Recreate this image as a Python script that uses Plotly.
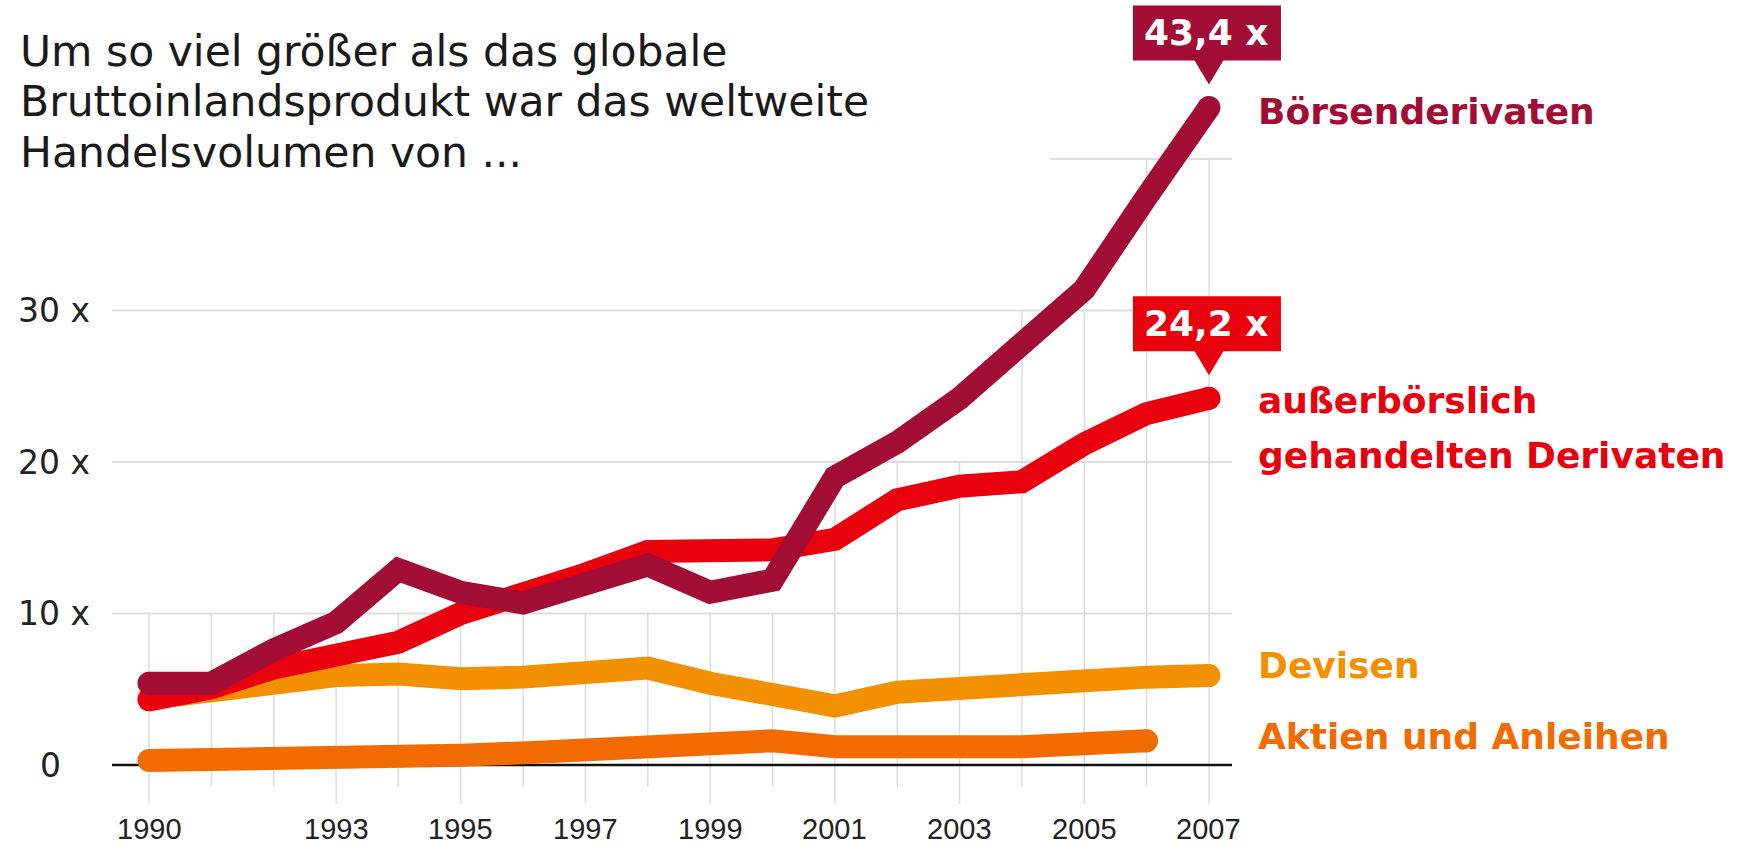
import plotly.graph_objects as go

# ---------------- data ----------------
years = list(range(1990, 2008))
boersen = [5.4, 5.4, 7.6, 9.4, 12.9, 11.4, 10.7, 12.0, 13.2, 11.4, 12.2, 19.0, 21.3, 24.2, 28.0, 31.4, 37.5, 43.4]
ausserb = [4.3, 5.1, 6.4, 7.3, 8.1, 10.0, 11.2, 12.6, 14.1, 14.1, 14.2, 14.9, 17.5, 18.4, 18.7, 21.2, 23.2, 24.2]
devisen = [4.4, 4.9, 5.5, 5.9, 6.0, 5.7, 5.8, 6.1, 6.4, 5.4, 4.6, 3.9, 4.8, 5.1, 5.1, 5.4, 5.8, 5.9]
aktien_years = list(range(1990, 2007))
aktien = [0.3, 0.3, 0.35, 0.5, 0.6, 0.65, 0.8, 1.0, 1.1, 1.2, 1.6, 1.2, 1.1, 1.1, 1.2, 1.4, 1.6]

year_labels = [1990, 1993, 1995, 1997, 1999, 2001, 2003, 2005, 2007]
y_grid = [10, 20, 30, 40]
y_labels = {30: "30 x", 20: "20 x", 10: "10 x", 0: "0"}

title_lines = ["Um so viel größer als das globale",
               "Bruttoinlandsprodukt war das weltweite",
               "Handelsvolumen von ..."]

# ---------------- styling ----------------
C_BOERSEN = "#A10D35"
C_AUSSER = "#E8000D"
C_DEVISEN = "#F39000"
C_AKTIEN = "#F26B00"
LW = 23
GRID = "#dddddd"

W, H = 1762, 851
X0PX, PPX = 149.0, 62.35   # pixel of 1990, pixels per year
Y0PX, PPU = 765.0, 15.15   # pixel of value 0, pixels per unit
GRID_L, GRID_R = 112, 1232


def dx(px):
    return 1990 + (px - X0PX) / PPX


def dy(py):
    return (Y0PX - py) / PPU


x_range = [dx(0), dx(W)]
y_range = [dy(H), dy(0)]

TXT = "DejaVu Sans, Liberation Sans, Arial, sans-serif"
NUM = "Liberation Sans, Arial, sans-serif"

fig = go.Figure()

series = [
    (aktien_years, aktien, C_AKTIEN),
    (years, devisen, C_DEVISEN),
    (years, ausserb, C_AUSSER),
    (years, boersen, C_BOERSEN),
]
for xs, ys, col in series:
    fig.add_trace(go.Scatter(x=xs, y=ys, mode="lines",
                             line=dict(color=col, width=LW), hoverinfo="skip",
                             showlegend=False))
    fig.add_trace(go.Scatter(x=[xs[0], xs[-1]], y=[ys[0], ys[-1]], mode="markers",
                             marker=dict(color=col, size=LW, line=dict(width=0)),
                             hoverinfo="skip", showlegend=False))

shapes = []
# vertical drop grid lines
for yr, top in zip(years, boersen):
    ytop = max(10, round(top / 10) * 10)
    ybot = -2.55 if yr in year_labels else -1.45
    shapes.append(dict(type="line", xref="x", yref="y", x0=yr, x1=yr, y0=ybot, y1=ytop,
                       line=dict(color=GRID, width=1.5), layer="below"))
# horizontal grid lines
for g in y_grid:
    x0 = dx(GRID_L) if g < 40 else dx(1050)
    shapes.append(dict(type="line", xref="x", yref="y", x0=x0, x1=dx(GRID_R), y0=g, y1=g,
                       line=dict(color=GRID, width=2), layer="below"))
# zero line
shapes.append(dict(type="line", xref="x", yref="y", x0=dx(GRID_L), x1=dx(GRID_R), y0=0, y1=0,
                   line=dict(color="#111111", width=2.5), layer="below"))

# value callouts
callouts = [(years, boersen, C_BOERSEN), (years, ausserb, C_AUSSER)]
for xs, ys, col in callouts:
    xv, yv = xs[-1], ys[-1]
    shapes.append(dict(type="rect", xref="x", yref="y", xsizemode="pixel", ysizemode="pixel",
                       xanchor=xv, yanchor=yv, x0=-76, x1=72, y0=47, y1=102,
                       fillcolor=col, line=dict(width=0)))
    shapes.append(dict(type="path", xref="x", yref="y", xsizemode="pixel", ysizemode="pixel",
                       xanchor=xv, yanchor=yv, path="M -15 48 L 15 48 L 0 23 Z",
                       fillcolor=col, line=dict(width=0)))

annotations = []
for xs, ys, col in callouts:
    annotations.append(dict(x=xs[-1], y=ys[-1], xref="x", yref="y",
                            text="<b>" + f"{ys[-1]:.1f}".replace(".", ",") + " x</b>",
                            showarrow=False, xshift=-2, yshift=75,
                            font=dict(family=TXT, size=36, color="white")))

# title
for i, line in enumerate(title_lines):
    annotations.append(dict(x=18 / W, y=1 - (51 + i * 50.5) / H, xref="paper", yref="paper",
                            text=line, showarrow=False, xanchor="left", yanchor="middle",
                            font=dict(family=TXT, size=42.5, color="#1a1a1a")))

# y labels
for v, lab in y_labels.items():
    xl = 16 if v else 38
    annotations.append(dict(x=dx(xl), y=v, xref="x", yref="y", text=lab,
                            showarrow=False, xanchor="left", yanchor="middle",
                            font=dict(family=TXT, size=33, color="#222222")))

# x labels
for yr in year_labels:
    annotations.append(dict(x=yr, y=dy(829), xref="x", yref="y", text=str(yr),
                            showarrow=False, xanchor="center", yanchor="middle",
                            font=dict(family=NUM, size=29, color="#222222")))

# series labels
series_labels = [
    ("<b>Börsenderivaten</b>", 112, C_BOERSEN),
    ("<b>außerbörslich</b>", 400, C_AUSSER),
    ("<b>gehandelten Derivaten</b>", 455, C_AUSSER),
    ("<b>Devisen</b>", 665, C_DEVISEN),
    ("<b>Aktien und Anleihen</b>", 736, C_AKTIEN),
]
for txt, ypx, col in series_labels:
    annotations.append(dict(x=1256 / W, y=1 - ypx / H, xref="paper", yref="paper", text=txt,
                            showarrow=False, xanchor="left", yanchor="middle",
                            font=dict(family=TXT, size=36, color=col)))

fig.update_layout(
    width=W, height=H,
    margin=dict(l=0, r=0, t=0, b=0, pad=0),
    paper_bgcolor="white", plot_bgcolor="white",
    xaxis=dict(range=x_range, showgrid=False, zeroline=False, showticklabels=False,
               ticks="", showline=False, fixedrange=True),
    yaxis=dict(range=y_range, showgrid=False, zeroline=False, showticklabels=False,
               ticks="", showline=False, fixedrange=True),
    shapes=shapes, annotations=annotations,
    showlegend=False,
)

fig.write_html("out.html", config={"displayModeBar": False})
